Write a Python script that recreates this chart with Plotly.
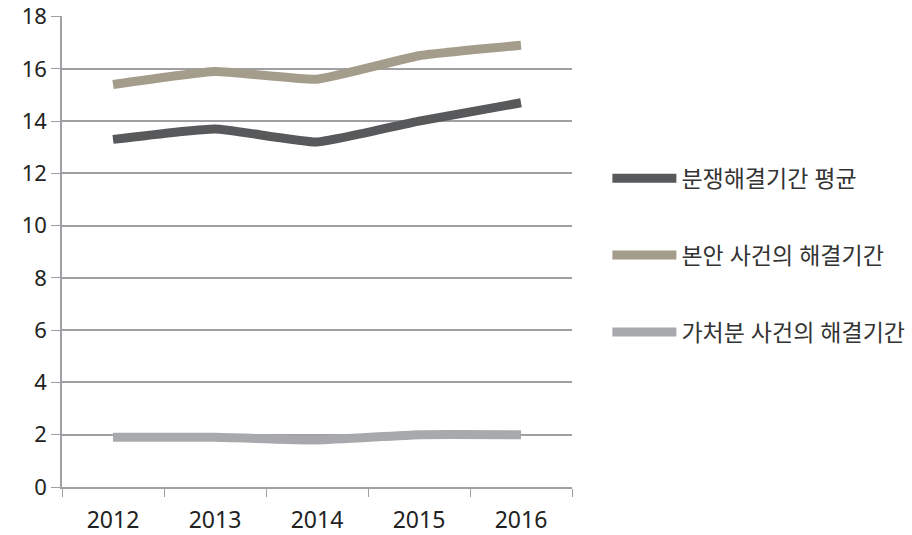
import plotly.graph_objects as go

years = ["2012", "2013", "2014", "2015", "2016"]
avg_period = [13.3, 13.7, 13.2, 14.0, 14.7]
main_period = [15.4, 15.9, 15.6, 16.5, 16.9]
prov_period = [1.9, 1.9, 1.8, 2.0, 2.0]
names = ["분쟁해결기간 평균", "본안 사건의 해결기간", "가처분 사건의 해결기간"]
colors = ["#58595b", "#a59d8c", "#a7a9ac"]

fig = go.Figure()
for i, (vals, nm, col) in enumerate(zip([avg_period, main_period, prov_period], names, colors)):
    fig.add_trace(go.Scatter(
        x=years, y=vals, name=nm, mode="lines",
        line=dict(color=col, width=9, shape="spline", smoothing=0.4),
        legendgroup=f"g{i}",
    ))

font_family = "Noto Sans, Noto Sans CJK KR, sans-serif"
fig.update_layout(
    width=912, height=535,
    margin=dict(l=62, r=340, t=16, b=48),
    paper_bgcolor="white", plot_bgcolor="white",
    font=dict(family=font_family, size=23, color="#222222"),
    showlegend=True,
    legend=dict(
        xref="container", yref="container",
        x=0.666, xanchor="left", y=0.707, yanchor="top",
        traceorder="grouped", tracegroupgap=44,
        font=dict(size=23, color="#333333"),
        itemwidth=64,
    ),
    xaxis=dict(
        type="category", range=[-0.5, 4.5], automargin=False,
        tickson="boundaries", ticks="outside", ticklen=8, tickcolor="#a0a0a4",
        showline=True, linecolor="#a0a0a4", linewidth=1.5,
        showgrid=False, tickfont=dict(size=23, color="#222222"),
        ticklabelstandoff=12,
    ),
    yaxis=dict(
        range=[0, 18.02], tickvals=[0, 2, 4, 6, 8, 10, 12, 14, 16, 18],
        ticks="outside", ticklen=9, tickcolor="#a0a0a4",
        showline=True, linecolor="#a0a0a4", linewidth=1.5, automargin=False,
        showgrid=True, gridcolor="#a0a0a4", gridwidth=1.5,
        zeroline=False, tickfont=dict(size=22, color="#222222"),
        ticklabeloverflow="allow",
    ),
)
fig.write_html("out.html")
